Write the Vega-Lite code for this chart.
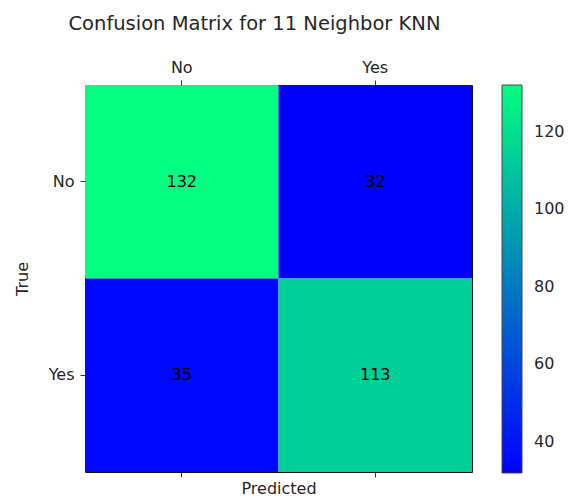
{
  "$schema": "https://vega.github.io/schema/vega-lite/v6.json",
  "width": 387,
  "height": 387,
  "autosize": {"type": "none"},
  "padding": {"left": 85, "top": 85, "right": 97, "bottom": 28},
  "title": {
    "text": "Confusion Matrix for 11 Neighbor KNN",
    "frame": "group",
    "anchor": "middle",
    "dx": -24,
    "offset": 25,
    "fontSize": 19.5,
    "fontWeight": "normal",
    "color": "#262626"
  },
  "data": {
    "values": [
      {"true": "No", "pred": "No", "n": 132},
      {"true": "No", "pred": "Yes", "n": 32},
      {"true": "Yes", "pred": "No", "n": 35},
      {"true": "Yes", "pred": "Yes", "n": 113}
    ]
  },
  "layer": [
    {
      "mark": {"type": "rect"},
      "encoding": {
        "x": {
          "field": "pred", "type": "nominal", "sort": ["No", "Yes"],
          "scale": {"paddingInner": 0, "paddingOuter": 0},
          "axis": {"orient": "top", "title": null, "labelAngle": 0, "labelPadding": 5}
        },
        "y": {
          "field": "true", "type": "nominal", "sort": ["No", "Yes"],
          "scale": {"paddingInner": 0, "paddingOuter": 0},
          "axis": {"title": "True", "labelPadding": 6, "titlePadding": 18}
        },
        "color": {
          "field": "n", "type": "quantitative",
          "scale": {"domain": [32, 132], "range": ["#0000ff", "#00ff80"], "interpolate": "rgb"},
          "legend": {
            "title": null,
            "orient": "right",
            "offset": 30,
            "direction": "vertical",
            "gradientLength": 388,
            "gradientThickness": 20,
            "gradientStrokeColor": "#444",
            "gradientStrokeWidth": 1,
            "values": [40, 60, 80, 100, 120],
            "labelOverlap": false,
            "labelFontSize": 16,
            "labelOffset": 12,
            "labelColor": "#262626"
          }
        }
      }
    },
    {
      "mark": {"type": "text", "fontSize": 16, "color": "#000"},
      "encoding": {
        "x": {
          "field": "pred", "type": "nominal", "sort": ["No", "Yes"],
          "axis": {"orient": "bottom", "labels": false, "title": "Predicted", "titlePadding": 3}
        },
        "y": {"field": "true", "type": "nominal", "sort": ["No", "Yes"]},
        "text": {"field": "n", "type": "quantitative"}
      }
    }
  ],
  "resolve": {"axis": {"x": "independent"}},
  "config": {
    "font": "DejaVu Sans",
    "view": {"stroke": "#111", "strokeWidth": 1},
    "axis": {
      "domain": false,
      "grid": false,
      "ticks": true,
      "tickSize": 5,
      "tickColor": "#333",
      "labelFontSize": 16,
      "labelColor": "#262626",
      "titleFontSize": 16,
      "titleFontWeight": "normal",
      "titleColor": "#262626"
    }
  }
}
